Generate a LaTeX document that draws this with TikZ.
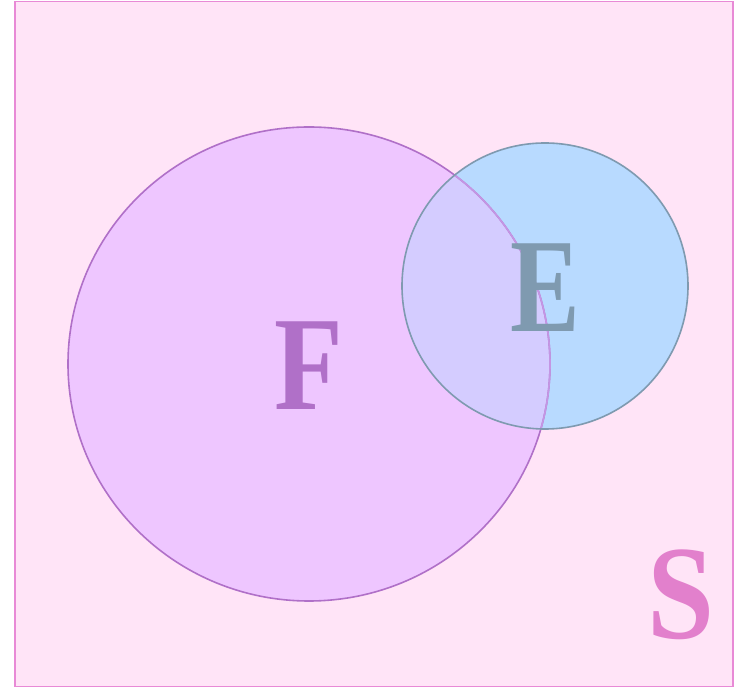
\documentclass[tikz,border=0pt]{standalone}
\usepackage{fontspec}
\setmainfont{Liberation Serif}
\definecolor{bgpink}{RGB}{255,228,247}
\definecolor{borderpink}{RGB}{232,138,214}
\definecolor{ffill}{RGB}{238,198,255}
\definecolor{fstroke}{RGB}{176,112,200}
\definecolor{efill}{RGB}{184,218,255}
\definecolor{estroke}{RGB}{127,154,176}
\definecolor{overlap}{RGB}{212,204,255}
\definecolor{fstrokein}{RGB}{196,150,228}
\definecolor{slabel}{RGB}{226,128,204}
\tikzset{
  biglabel/.style={inner sep=0pt, font=\bfseries\fontsize{134}{134}\selectfont},
}
\begin{document}
\begin{tikzpicture}[x=1pt,y=1pt]
\useasboundingbox (0,0) rectangle (737,688);
\node[draw=borderpink, fill=bgpink, line width=1.8pt, minimum width=718pt, minimum height=685pt, inner sep=0pt] (S) at (374,344) {};
% F circle
\fill[ffill] (309,324) ellipse [x radius=241, y radius=237];
% E circle fill
\fill[efill] (545,402) circle [radius=143];
% overlap
\begin{scope}
  \clip (309,324) ellipse [x radius=241, y radius=237];
  \fill[overlap] (545,402) circle [radius=143];
\end{scope}
% F stroke
\draw[fstroke, line width=1.6pt] (309,324) ellipse [x radius=241, y radius=237];
\begin{scope}
  \clip (545,402) circle [radius=143];
  \draw[fstrokein, line width=1.6pt] (309,324) ellipse [x radius=241, y radius=237];
\end{scope}
% E stroke
\draw[estroke, line width=1.6pt] (545,402) circle [radius=143];
\node[biglabel, text=fstroke] (F) at (309,322) {\scalebox{0.84}[1]{F}};
\node[biglabel, text=estroke] (E) at (545,400) {\scalebox{0.78}[1]{E}};
\node[biglabel, text=slabel] (Sl) at (681,93) {\scalebox{0.9}[1]{S}};
\end{tikzpicture}
\end{document}
